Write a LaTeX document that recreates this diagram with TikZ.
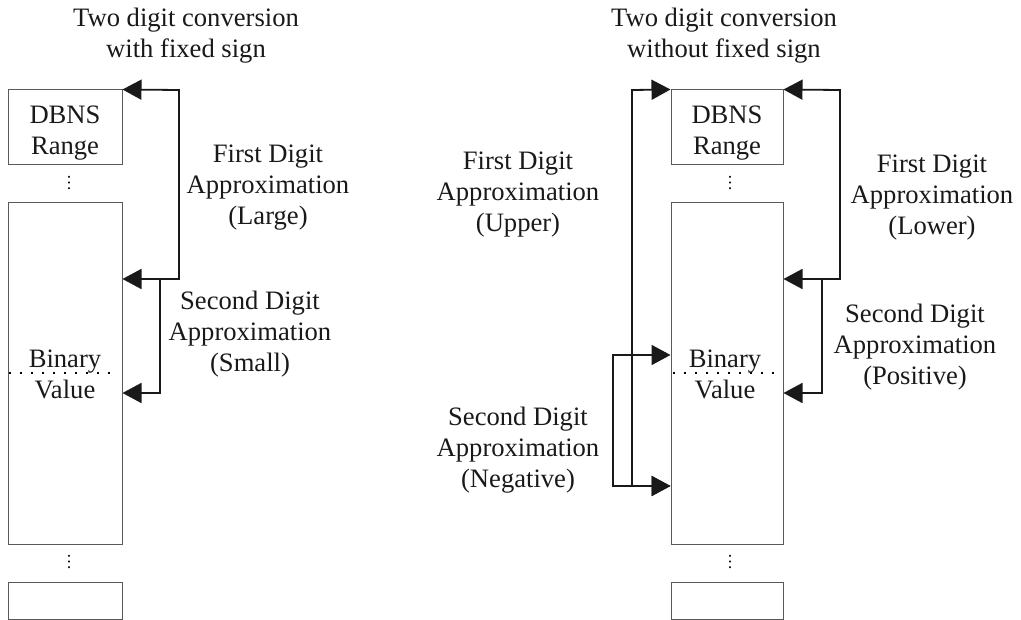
\documentclass[tikz,border=0pt]{standalone}
\usepackage{fontspec}
\setmainfont{Liberation Serif}
\usetikzlibrary{arrows.meta}
\begin{document}
\begin{tikzpicture}[x=1pt,y=-1pt,
  box/.style={draw=black!65, line width=1pt, inner sep=0pt, minimum width=114pt},
  conn/.style={draw=black!90, line width=1.8pt},
  tipend/.style={-{Triangle[length=19pt,width=20pt]}},
  tipboth/.style={{Triangle[length=19pt,width=20pt]}-{Triangle[length=19pt,width=20pt]}},
  lbl/.style={align=center, font=\fontsize{26.6}{31}\selectfont, text=black!90},
  vd/.style={rotate=90, inner sep=0pt, font=\fontsize{17}{17}\selectfont, text=black},
  sep/.style={draw=black, line width=1.6pt, dash pattern=on 1.6pt off 9.4pt}
]
\useasboundingbox (0,0) rectangle (1021,620);

% ---------- left column: fixed sign ----------
\node[box, minimum height=75pt] (dbnsL) at (65,127.5) {};
\node[lbl] (dbnsLt) at (65,133) {DBNS\\Range};
\node[vd] (dL1) at (69,183) {…};
\node[box, minimum height=341pt] (bigL) at (65,373.5) {};
\node[vd] (dL2) at (69,562) {…};
\node[box, minimum height=37pt] (botL) at (65,600.5) {};
\draw[sep] (9,373) -- (118,373);
\node[lbl] (binL) at (65,374) {Binary\\Value};

\coordinate (jL) at (160,279);
\draw[conn,tipboth] (dbnsL.north east) -- (179,90) |- (bigL.east |- 0,279);
\draw[conn,tipend] (jL) |- (bigL.east |- 0,393);

\node[lbl] (tL) at (186,36) {Two digit conversion\\with fixed sign};
\node[lbl] (fL) at (268,188) {First Digit\\Approximation\\(Large)};
\node[lbl] (sL) at (250,334) {Second Digit\\Approximation\\(Small)};

% ---------- right column: free sign ----------
\node[box, minimum height=75pt, minimum width=112pt] (dbnsR) at (727,127.5) {};
\node[lbl] (dbnsRt) at (727,133) {DBNS\\Range};
\node[vd] (dR1) at (730,183) {…};
\node[box, minimum height=341pt, minimum width=112pt] (bigR) at (727,373.5) {};
\node[vd] (dR2) at (730,562) {…};
\node[box, minimum height=37pt, minimum width=112pt] (botR) at (727,600.5) {};
\draw[sep] (673,373) -- (777,373);
\node[lbl] (binR) at (725,374) {Binary\\Value};

\coordinate (jR) at (822,279);
\draw[conn,tipboth] (dbnsR.north east) -- (840,90) |- (bigR.east |- 0,279);
\draw[conn,tipend] (jR) |- (bigR.east |- 0,393);

\draw[conn,tipboth] (bigR.west |- 0,486) -| (632,90) -- (dbnsR.north west);
\draw[conn,tipboth] (bigR.west |- 0,486) -| (613,355) -- (bigR.west |- 0,355);

\node[lbl] (tR) at (724,36) {Two digit conversion\\without fixed sign};
\node[lbl] (fU) at (518,195) {First Digit\\Approximation\\(Upper)};
\node[lbl] (sN) at (518,450) {Second Digit\\Approximation\\(Negative)};
\node[lbl] (fLo) at (932,198) {First Digit\\Approximation\\(Lower)};
\node[lbl] (sP) at (915,347) {Second Digit\\Approximation\\(Positive)};
\end{tikzpicture}
\end{document}
